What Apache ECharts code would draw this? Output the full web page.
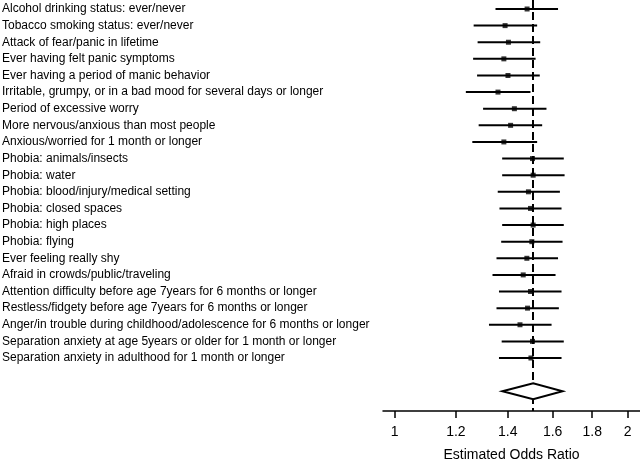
<!DOCTYPE html>
<html>
<head>
<meta charset="utf-8">
<script src="https://cdn.jsdelivr.net/npm/echarts@6/dist/echarts.min.js"></script>
<style>
html,body{margin:0;padding:0;background:#fff;}
#chart{width:640px;height:460px;}
</style>
</head>
<body>
<div id="chart"></div>
<script>
var labels = [
  "Alcohol drinking status: ever/never",
  "Tobacco smoking status: ever/never",
  "Attack of fear/panic in lifetime",
  "Ever having felt panic symptoms",
  "Ever having a period of manic behavior",
  "Irritable, grumpy, or in a bad mood for several days or longer",
  "Period of excessive worry",
  "More nervous/anxious than most people",
  "Anxious/worried for 1 month or longer",
  "Phobia: animals/insects",
  "Phobia: water",
  "Phobia: blood/injury/medical setting",
  "Phobia: closed spaces",
  "Phobia: high places",
  "Phobia: flying",
  "Ever feeling really shy",
  "Afraid in crowds/public/traveling",
  "Attention difficulty before age 7years for 6 months or longer",
  "Restless/fidgety before age 7years for 6 months or longer",
  "Anger/in trouble during childhood/adolescence for 6 months or longer",
  "Separation anxiety at age 5years or older for 1 month or longer",
  "Separation anxiety in adulthood for 1 month or longer"
];
var oddsRatio = [1.483,1.389,1.403,1.384,1.401,1.360,1.428,1.412,1.384,1.507,1.510,1.489,1.498,1.510,1.504,1.482,1.466,1.498,1.485,1.452,1.507,1.500];
var ciLower   = [1.350,1.265,1.280,1.263,1.278,1.236,1.301,1.284,1.260,1.377,1.377,1.359,1.366,1.377,1.373,1.354,1.338,1.364,1.354,1.324,1.375,1.364];
var ciUpper   = [1.626,1.528,1.542,1.521,1.540,1.498,1.571,1.551,1.528,1.654,1.658,1.635,1.643,1.654,1.648,1.626,1.614,1.643,1.630,1.595,1.654,1.643];
var pooled = {lower: 1.378, estimate: 1.510, upper: 1.648};
var pooledRow = 24;
var xTicks = [1, 1.2, 1.4, 1.6, 1.8, 2];
var xTitle = "Estimated Odds Ratio";

var rowIdx = labels.map(function(_, i){ return i + 1; });
var ciData = rowIdx.map(function(r, i){ return [r, ciLower[i], ciUpper[i]]; });
var ptData = rowIdx.map(function(r, i){ return [oddsRatio[i], r]; });

var chart = echarts.init(document.getElementById('chart'), null, {renderer:'canvas'});
var FONT = '"Liberation Sans", Arial, sans-serif';
chart.setOption({
  animation: false,
  backgroundColor: '#fff',
  grid: {left: 383, right: 0, top: 0, bottom: 49, containLabel: false, outerBoundsMode: 'none'},
  xAxis: {
    type: 'log', logBase: 10, min: 0.966, max: 2.075,
    name: xTitle, nameLocation: 'middle', nameGap: 37,
    nameTextStyle: {fontFamily: FONT, fontSize: 14, color: '#000'},
    axisLine: {show: true, lineStyle: {color: '#000', width: 1.5}},
    axisTick: {show: true, length: 7, lineStyle: {color: '#000', width: 1.5}, customValues: xTicks},
    axisLabel: {fontFamily: FONT, fontSize: 14, color: '#000', margin: 14, customValues: xTicks,
      formatter: function(v){ return String(Math.round(v*10)/10); }},
    splitLine: {show: false}, minorTick: {show:false}, minorSplitLine: {show:false}
  },
  yAxis: {
    type: 'value', inverse: true, min: 0.4585, max: 25.189,
    axisLine: {show: false}, axisTick: {show: false}, splitLine: {show: false},
    axisLabel: {
      customValues: rowIdx, align: 'left', margin: 381,
      fontFamily: FONT, fontSize: 12, color: '#000',
      formatter: function(v){ return labels[Math.round(v) - 1] || ''; }
    }
  },
  series: [
    {
      type: 'custom', name: 'ci', data: ciData,
      encode: {x: [1, 2], y: 0},
      renderItem: function(params, api){
        var y = api.value(0);
        var p1 = api.coord([api.value(1), y]);
        var p2 = api.coord([api.value(2), y]);
        return {type: 'line', shape: {x1: p1[0], y1: p1[1], x2: p2[0], y2: p2[1]},
          style: {stroke: '#000', lineWidth: 2}};
      },
      z: 3
    },
    {
      type: 'scatter', name: 'or', data: ptData,
      symbol: 'rect', symbolSize: 5, itemStyle: {color: '#000'}, z: 4,
      markLine: {
        silent: true, symbol: ['none','none'], label: {show: false},
        lineStyle: {color: '#000', width: 2, type: [8, 4]},
        data: [{xAxis: pooled.estimate}]
      }
    },
    {
      type: 'custom', name: 'pooled',
      data: [[pooledRow, pooled.lower, pooled.estimate, pooled.upper]],
      encode: {x: [1, 2, 3], y: 0},
      renderItem: function(params, api){
        var y = api.value(0);
        var l = api.coord([api.value(1), y]);
        var m = api.coord([api.value(2), y]);
        var r = api.coord([api.value(3), y]);
        var h = 8;
        return {type: 'polygon', shape: {points: [[l[0], l[1]], [m[0], m[1]-h], [r[0], r[1]], [m[0], m[1]+h]]},
          style: {fill: '#fff', stroke: '#000', lineWidth: 2}, z2: 10};
      },
      z: 5
    }
  ]
});
</script>
</body>
</html>
